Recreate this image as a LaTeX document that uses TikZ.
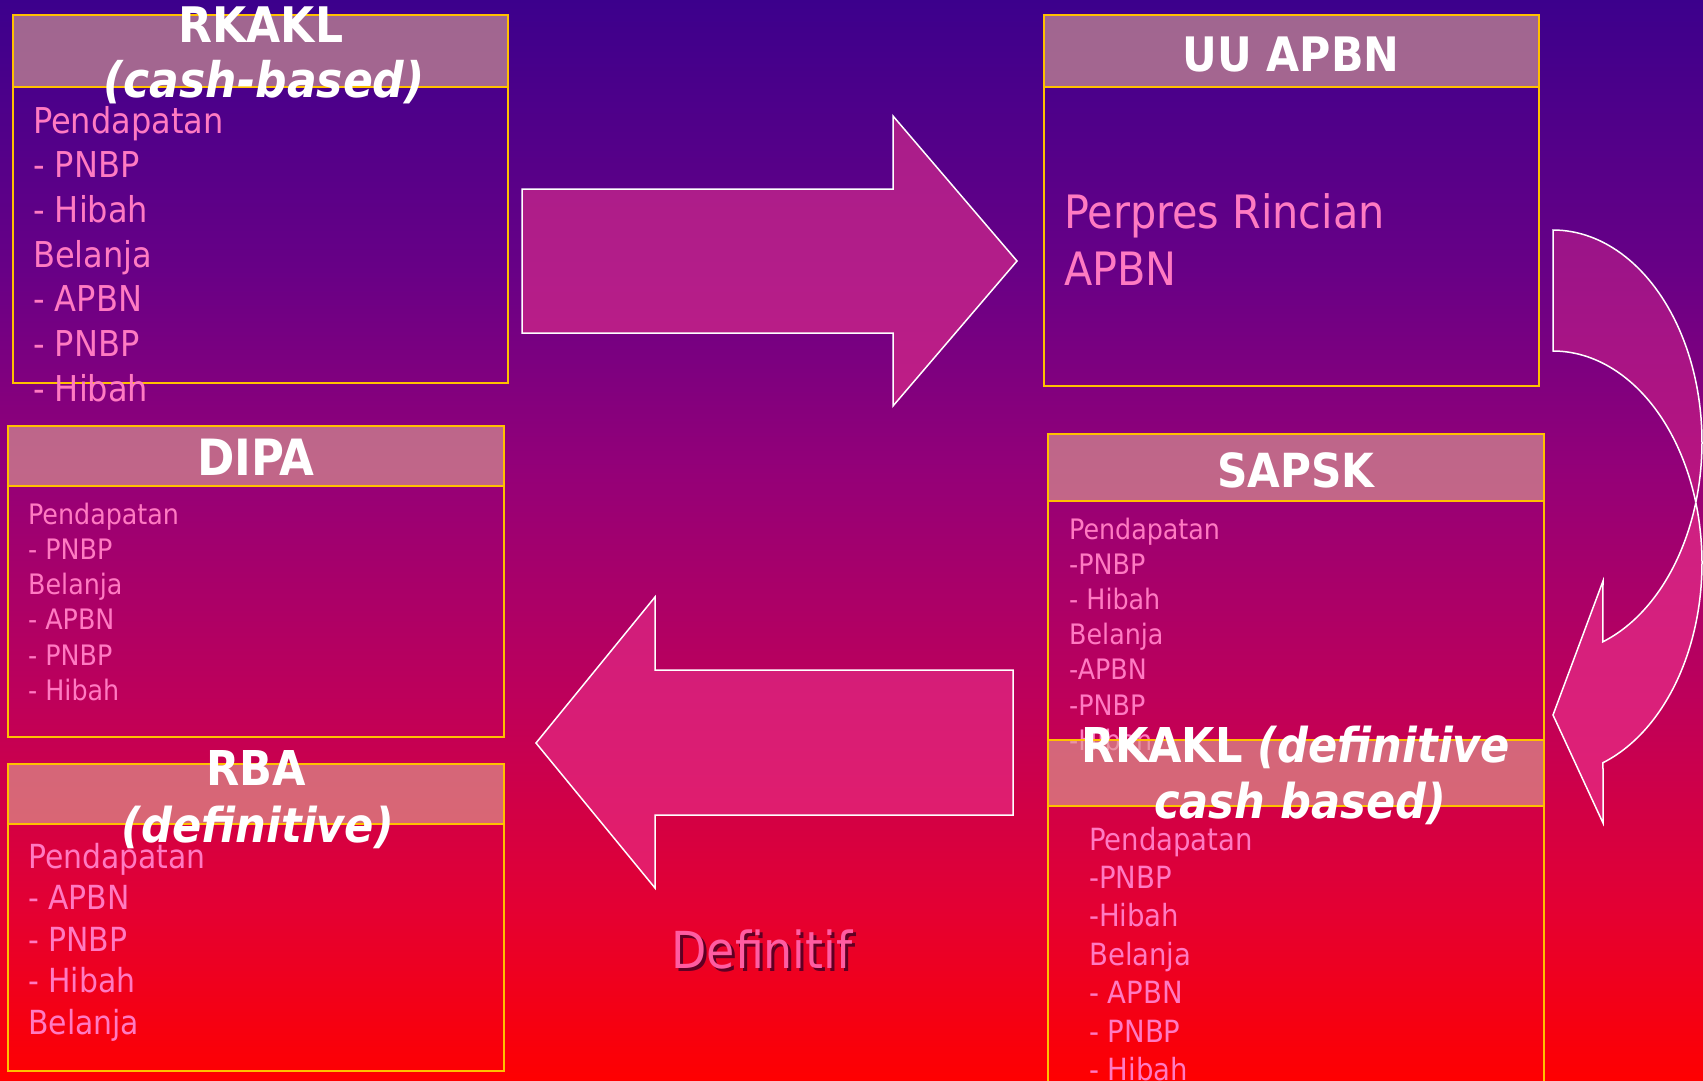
\documentclass[tikz,border=0pt]{standalone}
\usepackage{fontspec}
\setmainfont{DejaVu Sans Condensed}
\definecolor{bgA}{RGB}{60,0,140}
\definecolor{bgB}{RGB}{104,0,134}
\definecolor{bgC}{RGB}{148,0,120}
\definecolor{bgD}{RGB}{190,0,90}
\definecolor{bgE}{RGB}{228,0,50}
\definecolor{bgF}{RGB}{255,0,0}
\definecolor{gold}{RGB}{255,192,0}
\definecolor{hdr}{RGB}{221,165,148}
\definecolor{txtpink}{RGB}{255,122,194}
\definecolor{defpink}{RGB}{255,92,162}
\definecolor{shadowc}{RGB}{95,0,35}
\definecolor{arrowpink}{RGB}{234,50,140}
\newcommand\setfs[1]{\fontsize{#1}{#1}\selectfont}
\tikzset{
  boxline/.style={draw=gold, line width=2pt},
  hdrfill/.style={fill=hdr, fill opacity=0.62},
  blockarrow/.style={draw=white, line width=1.5pt, fill=arrowpink, line join=miter},
  bodytxt/.style={anchor=base west, inner sep=0pt, text=txtpink},
  titletxt/.style={anchor=base, inner sep=0pt, text=white},
}
\begin{document}
\begin{tikzpicture}[x=1pt,y=-1pt]
\useasboundingbox (0,0) rectangle (1703,1081);
% background gradient
\shade[top color=bgA,bottom color=bgB] (0,-1) rectangle (1703,271);
\shade[top color=bgB,bottom color=bgC] (0,270) rectangle (1703,471);
\shade[top color=bgC,bottom color=bgD] (0,470) rectangle (1703,701);
\shade[top color=bgD,bottom color=bgE] (0,700) rectangle (1703,911);
\shade[top color=bgE,bottom color=bgF] (0,910) rectangle (1703,1082);

% straight block arrows
\filldraw[blockarrow, fill opacity=0.58] (522,189) -- (893,189) -- (893,116) -- (1017,261) -- (893,406) -- (893,333) -- (522,333) -- cycle;
\filldraw[blockarrow, fill opacity=0.58] (1013,670) -- (655,670) -- (655,597) -- (536,743) -- (655,888) -- (655,815) -- (1013,815) -- cycle;

% curved arrow: back part
\filldraw[blockarrow, fill opacity=0.42]
  plot[domain=90:-16.6, samples=60] ({1553+149*cos(\x)},{442-212*sin(\x)})
  -- plot[domain=16.6:90, samples=60] ({1553+149*cos(\x)},{563-212*sin(\x)}) -- cycle;
% curved arrow: front part with head
\filldraw[blockarrow, fill opacity=0.65]
  plot[domain=16.6:-70.4, samples=60] ({1553+149*cos(\x)},{563-212*sin(\x)})
  -- (1603,823) -- (1553,715) -- (1603,581)
  -- plot[domain=-70.5:-16.6, samples=60] ({1553+149*cos(\x)},{442-212*sin(\x)}) -- cycle;

% RKAKL (cash-based)
\path[hdrfill] (13,15) rectangle (508,87);
\draw[boxline] (13,15) rectangle (508,383);
\draw[boxline] (13,87) -- (508,87);
\foreach \t [count=\i] in {Pendapatan, - PNBP, - Hibah, Belanja, - APBN, - PNBP, - Hibah}
  \node[bodytxt, font=\setfs{35.6}] (rka-\i) at (33,{133+44.7*(\i-1)}) {\t};
\node[titletxt, font=\setfs{49}\bfseries] (rka-t1) at (261,43) {RKAKL};
\node[titletxt, font=\setfs{49}\bfseries\itshape] (rka-t2) at (264,98) {(cash-based)};

% UU APBN
\path[hdrfill] (1044,15) rectangle (1539,87);
\draw[boxline] (1044,15) rectangle (1539,386);
\draw[boxline] (1044,87) -- (1539,87);
\node[titletxt, font=\setfs{47.5}\bfseries] (uu-t) at (1291,71) {UU APBN};
\node[bodytxt, font=\setfs{46}] (uu-1) at (1064,228) {Perpres Rincian};
\node[bodytxt, font=\setfs{46}] (uu-2) at (1064,285) {APBN};

% DIPA
\path[hdrfill] (8,426) rectangle (504,486);
\draw[boxline] (8,426) rectangle (504,737);
\draw[boxline] (8,486) -- (504,486);
\foreach \t [count=\i] in {Pendapatan, - PNBP, Belanja, - APBN, - PNBP, - Hibah}
  \node[bodytxt, font=\setfs{28.2}] (dipa-\i) at (28,{524+35.3*(\i-1)}) {\t};
\node[titletxt, font=\setfs{50}\bfseries] (dipa-t) at (256,475) {DIPA};

% RBA (definitive)
\path[hdrfill] (8,764) rectangle (504,824);
\draw[boxline] (8,764) rectangle (504,1071);
\draw[boxline] (8,824) -- (504,824);
\foreach \t [count=\i] in {Pendapatan, - APBN, - PNBP, - Hibah, Belanja}
  \node[bodytxt, font=\setfs{33.2}] (rba-\i) at (28,{868+41.5*(\i-1)}) {\t};
\node[titletxt, font=\setfs{48}\bfseries] (rba-t1) at (256,785) {RBA};
\node[titletxt, font=\setfs{48}\bfseries\itshape] (rba-t2) at (258,842) {(definitive)};

% SAPSK
\path[hdrfill] (1048,434) rectangle (1544,501);
\draw[boxline] (1048,434) rectangle (1544,740);
\draw[boxline] (1048,501) -- (1544,501);
\foreach \t [count=\i] in {Pendapatan, -PNBP, - Hibah, Belanja, -APBN, -PNBP, -Hibah}
  \node[bodytxt, font=\setfs{28.2}] (sap-\i) at (1069,{539+35.2*(\i-1)}) {\t};
\node[titletxt, font=\setfs{47}\bfseries] (sap-t) at (1296,487) {SAPSK};

% RKAKL (definitive cash based)
\path[hdrfill] (1048,740) rectangle (1544,806);
\draw[boxline] (1048,740) rectangle (1544,1095);
\draw[boxline] (1048,806) -- (1544,806);
\foreach \t [count=\i] in {Pendapatan, -PNBP, -Hibah, Belanja, - APBN, - PNBP, - Hibah}
  \node[bodytxt, font=\setfs{30.6}] (rkd-\i) at (1089,{850+38.4*(\i-1)}) {\t};
\node[titletxt, font=\setfs{48}\bfseries] (rkd-t1) at (1296,762) {RKAKL \textit{(definitive}};
\node[titletxt, font=\setfs{48}\bfseries\itshape] (rkd-t2) at (1300,818) {cash based)};

% Definitif label with shadow
\node[anchor=base, inner sep=0pt, text=shadowc, font=\setfs{51}] (def-s) at (765,971) {Definitif};
\node[anchor=base, inner sep=0pt, text=defpink, font=\setfs{51}] (def) at (762,968) {Definitif};
\end{tikzpicture}
\end{document}
